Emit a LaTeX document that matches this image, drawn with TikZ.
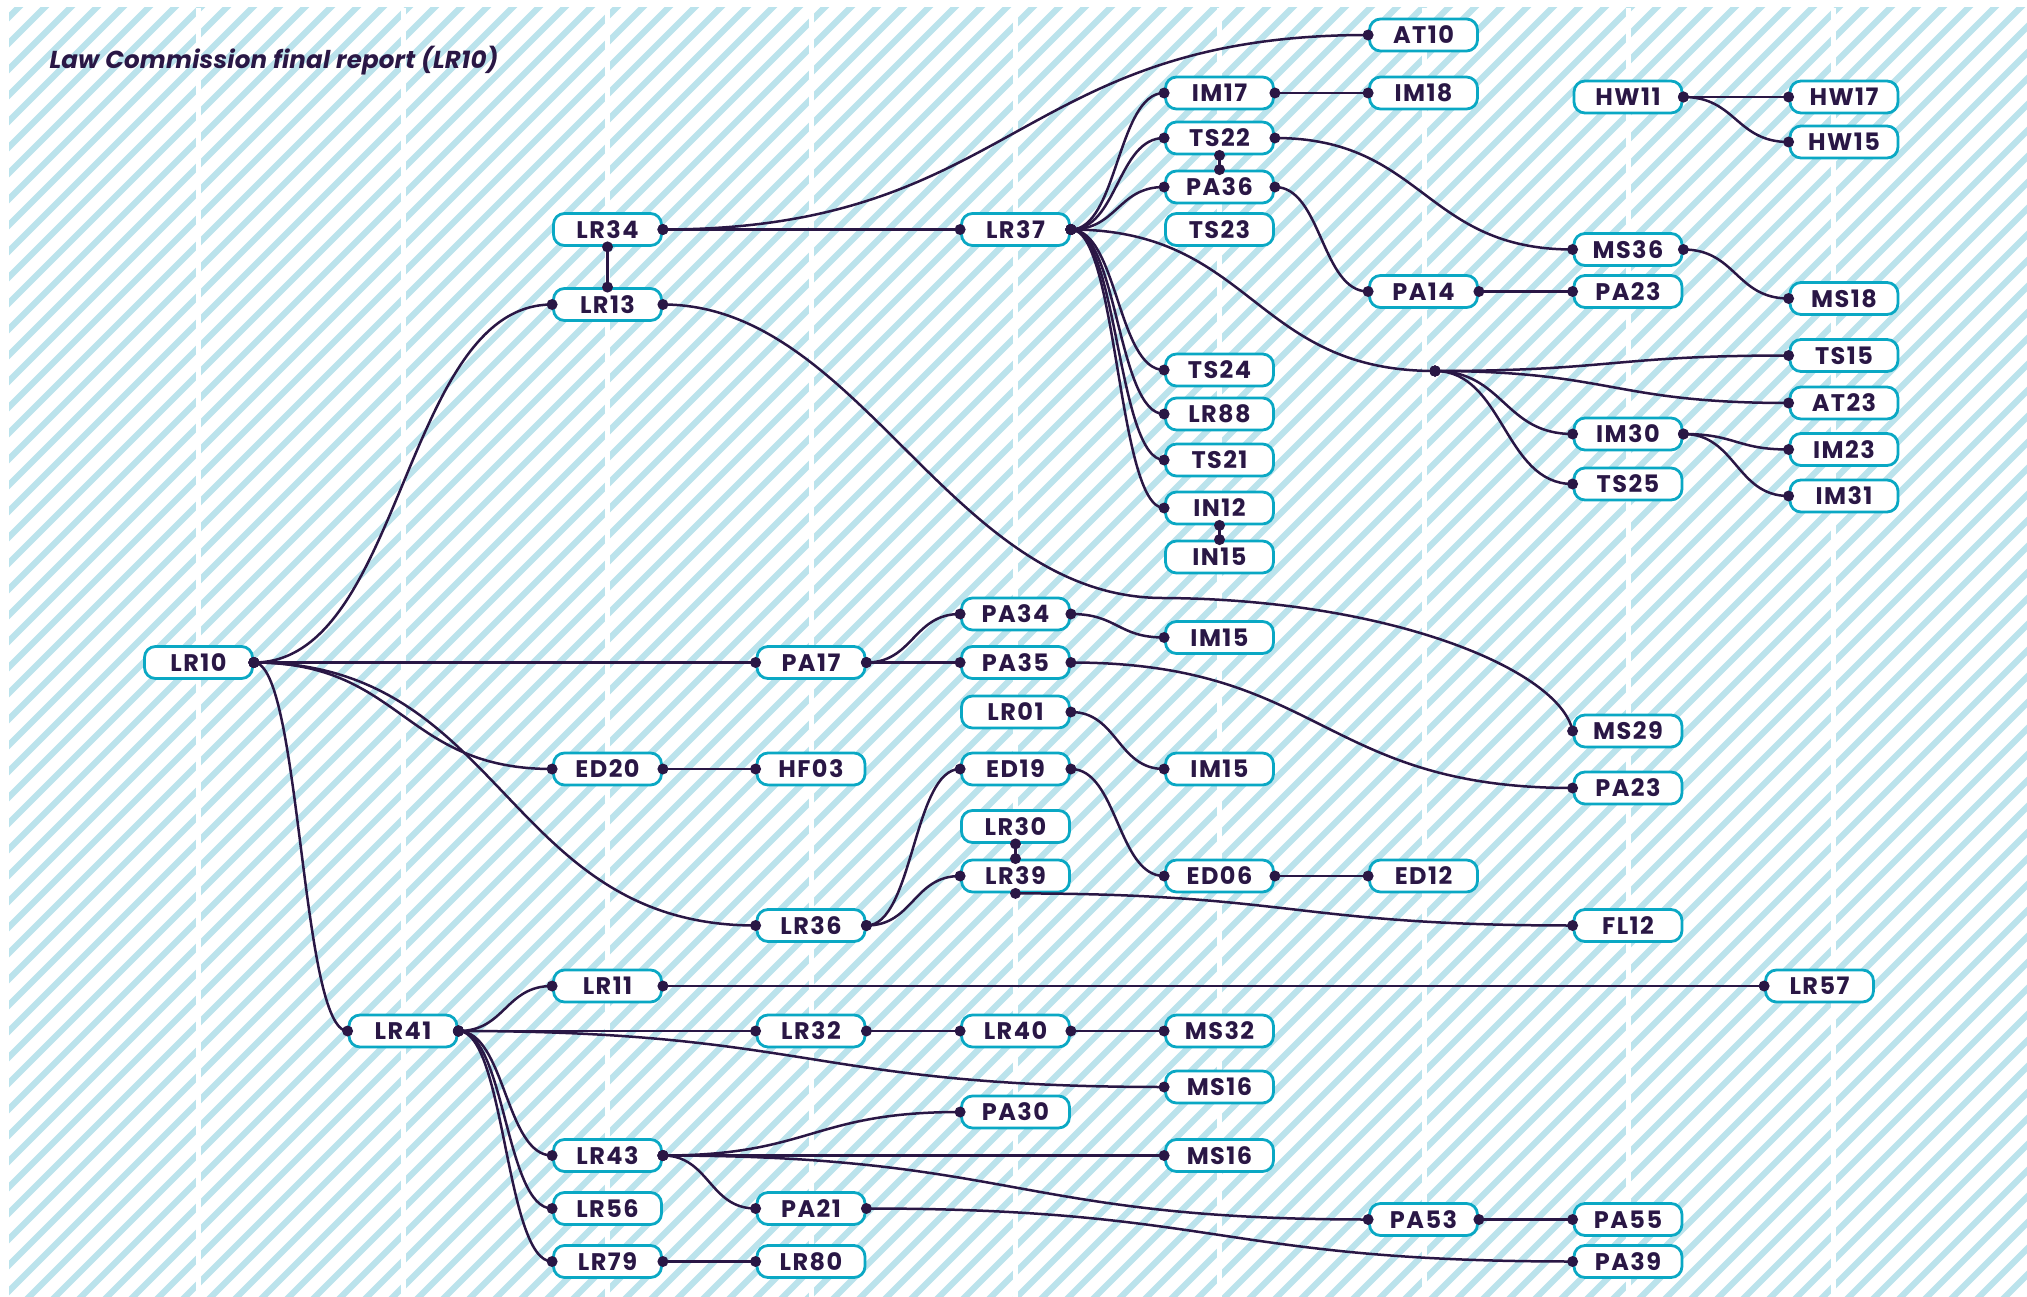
\documentclass[tikz,border=0pt]{standalone}
\usepackage{fontspec}
\setmainfont{Poppins}
\newfontfamily\nodefont[LetterSpace=6]{Poppins}
\newfontfamily\titlefont[LetterSpace=0.8]{Poppins}
\usetikzlibrary{calc}
\definecolor{inkc}{HTML}{2A1745}
\definecolor{bordc}{HTML}{0AA8C4}
\definecolor{hatchc}{HTML}{BBE3EC}
\tikzset{
  box/.style={draw=bordc, line width=2.8pt, fill=white, rounded corners=11pt,
    minimum width=108pt, minimum height=32pt, inner sep=0pt,
    font=\nodefont\fontsize{24}{24}\selectfont\bfseries, text=inkc},
  lnk/.style={draw=inkc, line width=2.5pt},
  hl/.style={to path={.. controls ($(\tikztostart)!0.5!(\tikztostart -| \tikztotarget)$) and ($(\tikztotarget)!0.5!(\tikztotarget -| \tikztostart)$) .. (\tikztotarget) \tikztonodes}},
}
\newcommand\edgelink[2]{\draw[lnk] (#1) to[hl] (#2); \fill[inkc] (#1) circle (5.5pt) (#2) circle (5.5pt);}
\newcommand\vlink[2]{\draw[lnk] (#1) -- (#2); \fill[inkc] (#1) circle (5.5pt) (#2) circle (5.5pt);}
\begin{document}
\begin{tikzpicture}[x=1pt,y=-1pt]
\useasboundingbox (0,0) rectangle (2027,1297);
\fill[white] (0,0) rectangle (2027,1297);
\begin{scope}
\clip (9,8) rectangle (2027,1297);
\foreach \c in {0,26,...,3380} \draw[hatchc, line width=6.2pt] (\c,0) -- ++(-1400,1400);
\end{scope}
\foreach \x in {198.5,403,607.5,811,1015.5,1219.5,1424,1628.5,1833}
  \draw[white, line width=5pt] (\x,8) -- (\x,1297);

\node[anchor=base west, font=\titlefont\fontsize{24.5}{24.5}\selectfont\bfseries\itshape, text=inkc] (title) at (46,69) {Law Commission final report (LR10)};

% column 0
\node[box] (LR10) at (198.5,662.5) {LR10};
% column 1
\node[box] (LR41) at (403,1031) {LR41};
% column 2
\node[box] (LR34) at (607.5,229.5) {LR34};
\node[box] (LR13) at (607.5,304.5) {LR13};
\node[box] (ED20) at (607.5,769) {ED20};
\node[box] (LR11) at (607.5,986) {LR11};
\node[box] (LR43) at (607.5,1155.5) {LR43};
\node[box] (LR56) at (607.5,1208.5) {LR56};
\node[box] (LR79) at (607.5,1261.5) {LR79};
% column 3
\node[box] (PA17) at (811,662.5) {PA17};
\node[box] (HF03) at (811,769) {HF03};
\node[box] (LR36) at (811,925.5) {LR36};
\node[box] (LR32) at (811,1031) {LR32};
\node[box] (PA21) at (811,1208.5) {PA21};
\node[box] (LR80) at (811,1261.5) {LR80};
% column 4
\node[box] (LR37) at (1015.5,229.5) {LR37};
\node[box] (PA34) at (1015.5,614) {PA34};
\node[box] (PA35) at (1015.5,662.5) {PA35};
\node[box] (LR01) at (1015.5,712) {LR01};
\node[box] (ED19) at (1015.5,769) {ED19};
\node[box] (LR30) at (1015.5,826.5) {LR30};
\node[box] (LR39) at (1015.5,876) {LR39};
\node[box] (LR40) at (1015.5,1031) {LR40};
\node[box] (PA30) at (1015.5,1112) {PA30};
% column 5
\node[box] (IM17) at (1219.5,93) {IM17};
\node[box] (TS22) at (1219.5,138) {TS22};
\node[box] (PA36) at (1219.5,187) {PA36};
\node[box] (TS23) at (1219.5,229.5) {TS23};
\node[box] (TS24) at (1219.5,370) {TS24};
\node[box] (LR88) at (1219.5,414) {LR88};
\node[box] (TS21) at (1219.5,460) {TS21};
\node[box] (IN12) at (1219.5,508) {IN12};
\node[box] (IN15) at (1219.5,557) {IN15};
\node[box] (IM15a) at (1219.5,637.5) {IM15};
\node[box] (IM15b) at (1219.5,769) {IM15};
\node[box] (ED06) at (1219.5,876) {ED06};
\node[box] (MS32) at (1219.5,1031) {MS32};
\node[box] (MS16a) at (1219.5,1087) {MS16};
\node[box] (MS16b) at (1219.5,1155.5) {MS16};
% column 6
\node[box] (AT10) at (1423.5,35) {AT10};
\node[box] (IM18) at (1423.5,93) {IM18};
\node[box] (PA14) at (1423.5,291.5) {PA14};
\node[box] (ED12) at (1423.5,876) {ED12};
\node[box] (PA53) at (1423.5,1219.5) {PA53};
\coordinate (J) at (1435,371);
% column 7
\node[box] (HW11) at (1628,97) {HW11};
\node[box] (MS36) at (1628,249.5) {MS36};
\node[box] (PA23a) at (1628,291.5) {PA23};
\node[box] (IM30) at (1628,434) {IM30};
\node[box] (TS25) at (1628,484) {TS25};
\node[box] (MS29) at (1628,731) {MS29};
\node[box] (PA23b) at (1628,788) {PA23};
\node[box] (FL12) at (1628,925.5) {FL12};
\node[box] (PA55) at (1628,1219.5) {PA55};
\node[box] (PA39) at (1628,1261.5) {PA39};
% column 8
\node[box] (HW17) at (1844,97) {HW17};
\node[box] (HW15) at (1844,142) {HW15};
\node[box] (MS18) at (1844,298.5) {MS18};
\node[box] (TS15) at (1844,355.5) {TS15};
\node[box] (AT23) at (1844,403) {AT23};
\node[box] (IM23) at (1844,449.5) {IM23};
\node[box] (IM31) at (1844,496) {IM31};
\node[box] (LR57) at (1819.5,986) {LR57};

% connectors
\edgelink{LR10.east}{LR13.west}
\edgelink{LR10.east}{PA17.west}
\edgelink{LR10.east}{ED20.west}
\edgelink{LR10.east}{LR36.west}
\edgelink{LR10.east}{LR41.west}
\vlink{LR34.south}{LR13.north}
\edgelink{LR34.east}{LR37.west}
\edgelink{LR34.east}{AT10.west}
\edgelink{LR37.east}{IM17.west}
\edgelink{LR37.east}{TS22.west}
\edgelink{LR37.east}{PA36.west}
\edgelink{LR37.east}{TS24.west}
\edgelink{LR37.east}{LR88.west}
\edgelink{LR37.east}{TS21.west}
\edgelink{LR37.east}{IN12.west}
\edgelink{LR37.east}{J}
\edgelink{IM17.east}{IM18.west}
\vlink{TS22.south}{PA36.north}
\edgelink{TS22.east}{MS36.west}
\edgelink{PA36.east}{PA14.west}
\edgelink{PA14.east}{PA23a.west}
\edgelink{MS36.east}{MS18.west}
\edgelink{HW11.east}{HW17.west}
\edgelink{HW11.east}{HW15.west}
\edgelink{J}{TS15.west}
\edgelink{J}{AT23.west}
\edgelink{J}{IM30.west}
\edgelink{J}{TS25.west}
\edgelink{IM30.east}{IM23.west}
\edgelink{IM30.east}{IM31.west}
\vlink{IN12.south}{IN15.north}
\draw[lnk] (LR13.east) .. controls (860,304.5) and (950,597) .. (1162,598) .. controls (1390,599) and (1560,670) .. (MS29.west);
\fill[inkc] (LR13.east) circle (5.5pt) (MS29.west) circle (5.5pt);
\edgelink{PA17.east}{PA34.west}
\edgelink{PA17.east}{PA35.west}
\edgelink{PA34.east}{IM15a.west}
\edgelink{PA35.east}{PA23b.west}
\edgelink{LR01.east}{IM15b.west}
\edgelink{ED20.east}{HF03.west}
\edgelink{LR36.east}{ED19.west}
\edgelink{LR36.east}{LR39.west}
\edgelink{ED19.east}{ED06.west}
\vlink{LR30.south}{LR39.north}
\edgelink{LR39.south}{FL12.west}
\edgelink{ED06.east}{ED12.west}
\edgelink{LR41.east}{LR11.west}
\edgelink{LR41.east}{LR32.west}
\edgelink{LR41.east}{MS16a.west}
\edgelink{LR41.east}{LR43.west}
\edgelink{LR41.east}{LR56.west}
\edgelink{LR41.east}{LR79.west}
\edgelink{LR11.east}{LR57.west}
\edgelink{LR32.east}{LR40.west}
\edgelink{LR40.east}{MS32.west}
\edgelink{LR43.east}{PA30.west}
\edgelink{LR43.east}{MS16b.west}
\edgelink{LR43.east}{PA21.west}
\edgelink{LR43.east}{PA53.west}
\edgelink{PA53.east}{PA55.west}
\edgelink{PA21.east}{PA39.west}
\edgelink{LR79.east}{LR80.west}
\end{tikzpicture}
\end{document}
